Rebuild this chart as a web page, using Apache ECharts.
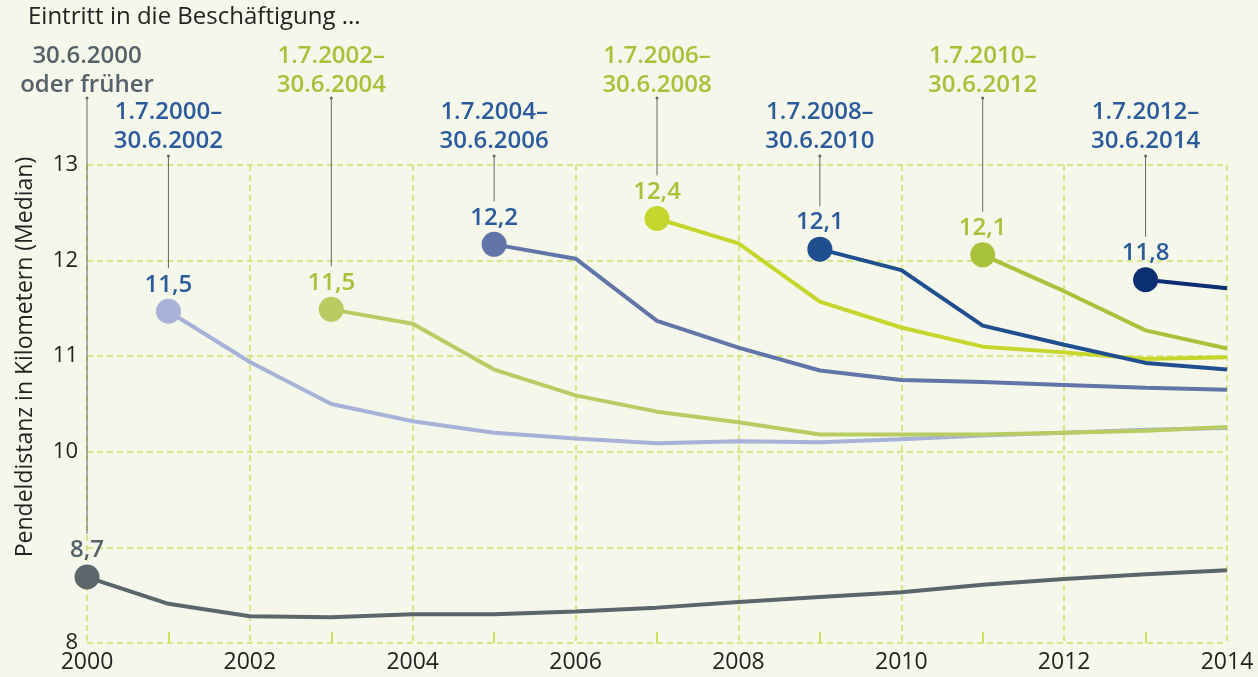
<!DOCTYPE html>
<html><head><meta charset="utf-8">
<script src="https://cdn.jsdelivr.net/npm/echarts@6/dist/echarts.min.js"></script>
<style>html,body{margin:0;padding:0;background:#f5f7ea;}#c{width:1258px;height:677px;}</style>
</head><body><div id="c"></div>
<script>
// ---- data ----
const startYears = [2000, 2001, 2003, 2005, 2007, 2009, 2011, 2013];
const s2000 = [8.69, 8.41, 8.28, 8.27, 8.30, 8.30, 8.33, 8.37, 8.43, 8.48, 8.53, 8.61, 8.67, 8.72, 8.76];
const s2001 = [11.47, 10.94, 10.50, 10.32, 10.20, 10.14, 10.09, 10.11, 10.10, 10.13, 10.17, 10.20, 10.23, 10.25];
const s2003 = [11.49, 11.34, 10.86, 10.59, 10.42, 10.31, 10.18, 10.18, 10.18, 10.20, 10.22, 10.26];
const s2005 = [12.17, 12.02, 11.37, 11.09, 10.85, 10.75, 10.73, 10.70, 10.67, 10.65];
const s2007 = [12.44, 12.18, 11.57, 11.30, 11.10, 11.04, 10.97, 10.99];
const s2009 = [12.12, 11.90, 11.32, 11.12, 10.93, 10.86];
const s2011 = [12.06, 11.68, 11.27, 11.08];
const s2013 = [11.80, 11.71];
const startLabels = ['8,7', '11,5', '11,5', '12,2', '12,4', '12,1', '12,1', '11,8'];
const periodLabels = ['30.6.2000\noder früher', '1.7.2000–\n30.6.2002', '1.7.2002–\n30.6.2004', '1.7.2004–\n30.6.2006',
  '1.7.2006–\n30.6.2008', '1.7.2008–\n30.6.2010', '1.7.2010–\n30.6.2012', '1.7.2012–\n30.6.2014'];
const xTicks = [2000, 2002, 2004, 2006, 2008, 2010, 2012, 2014];
const yTicks = [8, 9, 10, 11, 12, 13];
const title = 'Eintritt in die Beschäftigung ...';
const yName = 'Pendeldistanz in Kilometern (Median)';

// ---- styles ----
const lineColors = ['#5b666b', '#a6b2d8', '#b8cc63', '#6275a9', '#c5d72c', '#1f4f8e', '#a9c23c', '#0b2f72'];
const textColors = ['#56626a', '#2b5b9b', '#a8c03a', '#2b5b9b', '#a8c03a', '#2b5b9b', '#a8c03a', '#2b5b9b'];
const rowHigh = [true, false, true, false, true, false, true, false];
const FONT = 'Open Sans';
const grid = '#cfe06a';

const allVals = [s2000, s2001, s2003, s2005, s2007, s2009, s2011, s2013];
const chart = echarts.init(document.getElementById('c'));

const series = allVals.map((vals, k) => ({
  type: 'line',
  symbol: 'none',
  lineStyle: { width: 4, color: lineColors[k] },
  itemStyle: { color: lineColors[k] },
  emphasis: { disabled: true },
  z: 2 + k,
  data: vals.map((v, i) => i === 0 ? {
    value: [startYears[k] + i, v],
    symbol: 'circle', symbolSize: 25,
    label: {
      show: true, position: 'top', distance: 2,
      formatter: startLabels[k],
      fontFamily: FONT, fontSize: 24, fontWeight: 600, color: textColors[k]
    }
  } : [startYears[k] + i, v])
}));

chart.setOption({
  animation: false,
  backgroundColor: '#f5f7ea',
  grid: { left: 87, right: 31, top: 165, bottom: 34 },
  xAxis: {
    type: 'value', min: xTicks[0], max: xTicks[xTicks.length - 1], interval: 2,
    axisLine: { show: false },
    axisTick: { show: false, inside: true },
    minorTick: { show: true, splitNumber: 2, length: 11, lineStyle: { color: '#c5d72c', width: 1.5 } },
    splitLine: { show: true, lineStyle: { color: grid, type: [6, 4], width: 1.5 } },
    axisLabel: { fontFamily: FONT, fontSize: 23, color: '#222', margin: 8, formatter: v => String(v) }
  },
  yAxis: {
    type: 'value', min: yTicks[0], max: yTicks[yTicks.length - 1], interval: 1,
    axisLine: { show: false }, axisTick: { show: false },
    splitLine: { show: true, lineStyle: { color: grid, type: [6, 4], width: 1.5 } },
    axisLabel: { fontFamily: FONT, fontSize: 22, color: '#222', margin: 9,
      formatter: v => (v === 9 ? '' : String(v)) }
  },
  series: series
});

// annotations positioned through the chart's scales
const g = [];
g.push({ type: 'text', left: 28, top: 5, style: { text: title, fontFamily: FONT, fontSize: 24, fill: '#222' } });
g.push({ type: 'text', x: 25, y: 357, rotation: Math.PI / 2,
  style: { text: yName, fontFamily: FONT, fontSize: 23, fill: '#222', align: 'center', verticalAlign: 'middle' } });
allVals.forEach((vals, k) => {
  const p = chart.convertToPixel({ gridIndex: 0 }, [startYears[k], vals[0]]);
  const top = rowHigh[k] ? 42 : 98;
  const lineStart = rowHigh[k] ? 98 : 156;
  g.push({ type: 'text', x: p[0], y: top,
    style: { text: periodLabels[k], fontFamily: FONT, fontSize: 24, fontWeight: 600, lineHeight: 29,
      fill: textColors[k], align: 'center', verticalAlign: 'top' }, z: 10 });
  g.push({ type: 'line', shape: { x1: p[0], y1: lineStart, x2: p[0], y2: p[1] - 43 },
    style: { stroke: '#666', lineWidth: 1 }, z: 10 });
  g.push({ type: 'circle', shape: { cx: p[0], cy: lineStart, r: 1.5 }, style: { fill: '#666' }, z: 10 });
});
chart.setOption({ graphic: g });
</script></body></html>
